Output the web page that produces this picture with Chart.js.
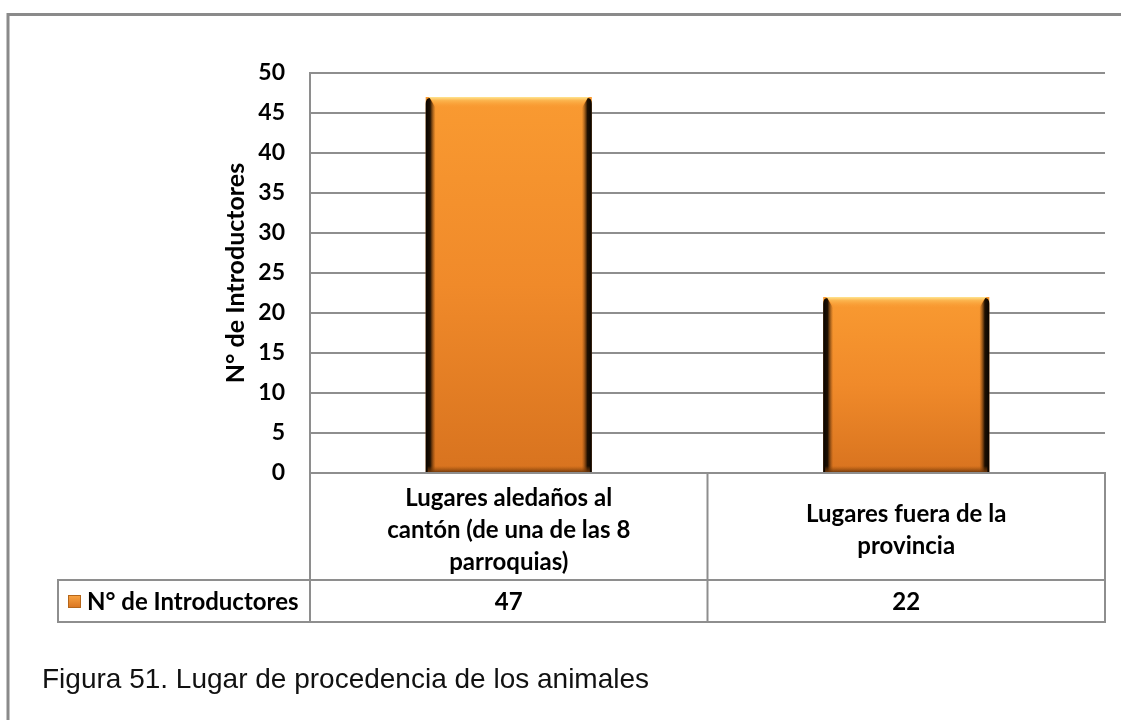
<!DOCTYPE html>
<html>
<head>
<meta charset="utf-8">
<script src="https://cdn.jsdelivr.net/npm/chart.js@4.4.1/dist/chart.umd.min.js"></script>
<style>
  html, body { margin: 0; padding: 0; background: #ffffff; }
  #wrap { width: 1121px; height: 720px; position: relative; }
</style>
</head>
<body>
<div id="wrap"><canvas id="chart" width="1121" height="720"></canvas></div>
<script>
// ---- data ----
const categories = [
  ["Lugares aledaños al", "cantón (de una de las 8", "parroquias)"],
  ["Lugares fuera de la", "provincia"]
];
const seriesName = "N° de Introductores";
const introductores = [47, 22];
const yTickValues = [0, 5, 10, 15, 20, 25, 30, 35, 40, 45, 50];
const axisTitle = "N° de Introductores";
const caption = "Figura 51. Lugar de procedencia de los animales";

// ---- styling ----
const GRID = '#8e8e8e';
const BOLD_FONT = 'Lato, "Open Sans", sans-serif';
const CAPTION_FONT = '"Liberation Sans", Arial, sans-serif';

// orange fill shaded from the top of each bar down to its base
function barFill(c) {
  const chart = c.chart;
  const ys = chart.scales && chart.scales.y;
  if (!ys || c.type !== 'data') return '#F28A2A';
  const top = ys.getPixelForValue(c.raw);
  const base = ys.getPixelForValue(0);
  if (!isFinite(top) || !isFinite(base) || base - top < 1) return '#F28A2A';
  const g = chart.ctx.createLinearGradient(0, top, 0, base);
  g.addColorStop(0, '#F99A31');
  g.addColorStop(0.5, '#F08A2A');
  g.addColorStop(1, '#D8731F');
  return g;
}

// bevel: light top edge and dark sides on each bar
const bevelPlugin = {
  id: 'bevel',
  afterDatasetsDraw(chart) {
    const ctx = chart.ctx;
    const meta = chart.getDatasetMeta(0);
    ctx.save();
    meta.data.forEach(bar => {
      const { x, y, base, width } = bar.getProps(['x', 'y', 'base', 'width'], true);
      if (![x, y, base, width].every(isFinite)) return;
      const l = x - width / 2, r = x + width / 2;
      // top bevel
      const tg = ctx.createLinearGradient(0, y, 0, y + 11);
      tg.addColorStop(0, '#FFE590');
      tg.addColorStop(0.3, '#FCB650');
      tg.addColorStop(1, 'rgba(249,154,49,0)');
      ctx.fillStyle = tg;
      ctx.beginPath();
      ctx.moveTo(l + 3, y);
      ctx.lineTo(r - 3, y);
      ctx.lineTo(r - 12, y + 11);
      ctx.lineTo(l + 12, y + 11);
      ctx.closePath();
      ctx.fill();
      // left side
      const lg = ctx.createLinearGradient(l, 0, l + 10, 0);
      lg.addColorStop(0, '#080400');
      lg.addColorStop(0.45, 'rgba(20,10,0,0.95)');
      lg.addColorStop(1, 'rgba(120,60,10,0)');
      ctx.fillStyle = lg;
      ctx.beginPath();
      ctx.moveTo(l, y + 7);
      ctx.quadraticCurveTo(l, y + 1, l + 4, y + 1);
      ctx.lineTo(l + 10, y + 11);
      ctx.lineTo(l + 10, base);
      ctx.lineTo(l, base);
      ctx.closePath();
      ctx.fill();
      // right side
      const rg = ctx.createLinearGradient(r, 0, r - 10, 0);
      rg.addColorStop(0, '#080400');
      rg.addColorStop(0.45, 'rgba(20,10,0,0.95)');
      rg.addColorStop(1, 'rgba(120,60,10,0)');
      ctx.fillStyle = rg;
      ctx.beginPath();
      ctx.moveTo(r, y + 7);
      ctx.quadraticCurveTo(r, y + 1, r - 4, y + 1);
      ctx.lineTo(r - 10, y + 11);
      ctx.lineTo(r - 10, base);
      ctx.lineTo(r, base);
      ctx.closePath();
      ctx.fill();
      // bottom shade
      const bg = ctx.createLinearGradient(0, base - 6, 0, base);
      bg.addColorStop(0, 'rgba(150,75,10,0)');
      bg.addColorStop(1, 'rgba(110,55,10,0.9)');
      ctx.fillStyle = bg;
      ctx.fillRect(l + 2, base - 6, width - 4, 6);
    });
    ctx.restore();
  }
};

// data table under the plot, outer frame and figure caption
const tablePlugin = {
  id: 'dataTable',
  afterDraw(chart) {
    const ctx = chart.ctx;
    const area = chart.chartArea;
    const xs = chart.scales.x;
    const L = area.left, R = area.right, T = area.bottom;
    const MID = 580, B = 622, LEG = 58;

    ctx.save();
    ctx.strokeStyle = GRID;
    ctx.lineWidth = 2;
    const line = (x1, y1, x2, y2) => {
      ctx.beginPath(); ctx.moveTo(x1, y1); ctx.lineTo(x2, y2); ctx.stroke();
    };
    line(L, T, R, T);
    line(LEG, MID, R, MID);
    line(LEG, B, R, B);
    line(LEG, MID - 1, LEG, B + 1);
    line(L, T - 1, L, B + 1);
    for (let i = 0; i < categories.length; i++) {
      const xb = xs.getPixelForValue(i + 0.5);
      line(xb, T - 1, xb, B + 1);
    }

    // category names and values
    ctx.fillStyle = '#000';
    ctx.textAlign = 'center';
    ctx.textBaseline = 'middle';
    ctx.font = 'bold 24px ' + BOLD_FONT;
    const lh = 32;
    const catMid = 530;
    const valMid = 602;
    categories.forEach((lines, i) => {
      const cx = xs.getPixelForValue(i);
      const y0 = catMid - (lines.length - 1) * lh / 2;
      lines.forEach((t, k) => ctx.fillText(t, cx, y0 + k * lh));
      ctx.fillText(String(introductores[i]), cx, valMid);
    });

    // legend key
    const kx = 68, ky = 595, ks = 13;
    const kg = ctx.createLinearGradient(0, ky, 0, ky + ks);
    kg.addColorStop(0, '#F9A544');
    kg.addColorStop(1, '#D9731F');
    ctx.fillStyle = kg;
    ctx.fillRect(kx, ky, ks, ks);
    ctx.strokeStyle = '#B5661A';
    ctx.lineWidth = 1;
    ctx.strokeRect(kx + 0.5, ky + 0.5, ks - 1, ks - 1);
    ctx.fillStyle = '#000';
    ctx.textAlign = 'left';
    ctx.fillText(seriesName, 87, valMid);

    // outer frame
    ctx.strokeStyle = '#8a8a8a';
    ctx.lineWidth = 3;
    ctx.beginPath();
    ctx.moveTo(8, 720);
    ctx.lineTo(8, 14.5);
    ctx.lineTo(1121, 14.5);
    ctx.stroke();

    // caption
    ctx.font = '28px ' + CAPTION_FONT;
    ctx.textBaseline = 'alphabetic';
    ctx.fillStyle = '#111';
    ctx.fillText(caption, 42, 688);
    ctx.restore();
  }
};

new Chart(document.getElementById('chart'), {
  type: 'bar',
  data: {
    labels: categories,
    datasets: [{
      label: seriesName,
      data: introductores,
      backgroundColor: barFill,
      borderWidth: 0,
      barPercentage: 0.418,
      categoryPercentage: 1.0
    }]
  },
  options: {
    responsive: false,
    devicePixelRatio: 1,
    animation: false,
    layout: { padding: { top: 73, left: 221, right: 16, bottom: 0 } },
    plugins: { legend: { display: false }, tooltip: { enabled: false } },
    scales: {
      x: {
        ticks: { display: false },
        grid: { display: false },
        border: { display: false },
        afterFit(s) { s.height = 247; }
      },
      y: {
        min: 0,
        max: 50,
        afterBuildTicks(s) { s.ticks = yTickValues.map(v => ({ value: v })); },
        ticks: {
          color: '#000',
          padding: 25,
          font: { family: BOLD_FONT, size: 23, weight: 'bold' }
        },
        grid: { color: GRID, lineWidth: 2, drawTicks: false },
        border: { display: true, color: GRID, width: 2 },
        title: {
          display: true,
          text: axisTitle,
          color: '#000',
          padding: 0,
          font: { family: BOLD_FONT, size: 25, weight: 'bold' }
        },
        afterFit(s) { s.width = 89; }
      }
    }
  },
  plugins: [bevelPlugin, tablePlugin]
});
</script>
</body>
</html>
